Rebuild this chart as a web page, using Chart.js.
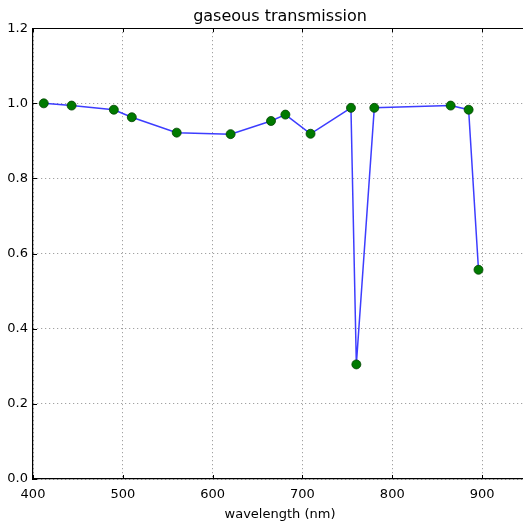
<!DOCTYPE html>
<html>
<head>
<meta charset="utf-8">
<script src="https://cdn.jsdelivr.net/npm/chart.js@4/dist/chart.umd.min.js"></script>
<style>
  html, body { margin: 0; padding: 0; background: #fff; }
  #wrap { width: 523px; height: 525px; overflow: hidden; position: relative; }
  canvas { display: block; }
</style>
</head>
<body>
<div id="wrap"><canvas id="c" width="545" height="525"></canvas></div>
<script>
// Data
const wavelengths = [412, 443, 490, 510, 560, 620, 665, 681, 709, 754, 760, 780, 865, 885, 896];
const transmission = [1.0, 0.994, 0.983, 0.963, 0.922, 0.918, 0.953, 0.970, 0.919, 0.988, 0.305, 0.988, 0.994, 0.983, 0.557];
const xTickValues = [400, 500, 600, 700, 800, 900];
const yTickValues = [0.0, 0.2, 0.4, 0.6, 0.8, 1.0, 1.2];
const titleText = 'gaseous transmission';
const xLabel = 'wavelength (nm)';

const points = wavelengths.map((w, i) => ({ x: w, y: transmission[i] }));
const FONT = 'DejaVu Sans';

// Frame top line and inward tick marks (matplotlib classic look)
const frameTicks = {
  id: 'frameTicks',
  beforeDatasetsDraw(chart) {
    const { ctx, chartArea: a, scales } = chart;
    const L = 4;
    ctx.save();
    ctx.strokeStyle = '#000';
    ctx.lineWidth = 1;
    ctx.beginPath();
    scales.x.ticks.forEach(t => {
      const px = Math.round(scales.x.getPixelForValue(t.value)) + 0.5;
      ctx.moveTo(px, a.bottom); ctx.lineTo(px, a.bottom - L);
      ctx.moveTo(px, a.top); ctx.lineTo(px, a.top + L);
    });
    scales.y.ticks.forEach(t => {
      const py = Math.round(scales.y.getPixelForValue(t.value)) + 0.5;
      ctx.moveTo(a.left, py); ctx.lineTo(a.left + L, py);
      ctx.moveTo(a.right, py); ctx.lineTo(a.right - L, py);
    });
    ctx.stroke();
    ctx.lineWidth = 1.2;
    ctx.beginPath();
    ctx.moveTo(a.left, Math.round(a.top) + 0.5);
    ctx.lineTo(a.right, Math.round(a.top) + 0.5);
    ctx.stroke();
    ctx.restore();
  }
};

new Chart(document.getElementById('c'), {
  type: 'line',
  data: {
    datasets: [{
      data: points,
      borderColor: 'rgba(40,40,255,0.9)',
      borderWidth: 1.5,
      pointBackgroundColor: '#007a00',
      pointBorderColor: '#004400',
      pointBorderWidth: 0.8,
      pointRadius: 4.5,
      tension: 0,
      fill: false
    }]
  },
  options: {
    responsive: false,
    animation: false,
    layout: { padding: { left: 0, right: 18, top: 0, bottom: 0 } },
    plugins: {
      legend: { display: false },
      tooltip: { enabled: false },
      title: {
        display: true,
        fullSize: false,
        text: titleText,
        color: '#000',
        font: { family: FONT, size: 16, weight: 'normal' },
        padding: { top: 7, bottom: 2 }
      }
    },
    scales: {
      x: {
        type: 'linear',
        min: 400,
        max: 950,
        afterBuildTicks: (s) => { s.ticks = xTickValues.map(v => ({ value: v })); },
        afterFit: (s) => { s.height = 46; },
        ticks: {
          color: '#000',
          font: { family: FONT, size: 13 },
          padding: 8,
          maxRotation: 0,
          callback: (v) => String(v)
        },
        grid: { color: 'rgba(0,0,0,0.45)', lineWidth: 1, drawTicks: false },
        border: { display: true, color: '#000', width: 1.2, dash: [1, 3] },
        title: {
          display: true,
          text: xLabel,
          color: '#000',
          font: { family: FONT, size: 13 },
          padding: { top: 0, bottom: 3 }
        }
      },
      y: {
        min: 0,
        max: 1.2,
        afterBuildTicks: (s) => { s.ticks = yTickValues.map(v => ({ value: v })); },
        afterFit: (s) => { s.width = 33; },
        ticks: {
          color: '#000',
          font: { family: FONT, size: 13 },
          padding: 5,
          callback: (v) => Number(v).toFixed(1)
        },
        grid: { color: 'rgba(0,0,0,0.45)', lineWidth: 1, drawTicks: false },
        border: { display: true, color: '#000', width: 1.2, dash: [1, 3] }
      }
    }
  },
  plugins: [frameTicks]
});
</script>
</body>
</html>
